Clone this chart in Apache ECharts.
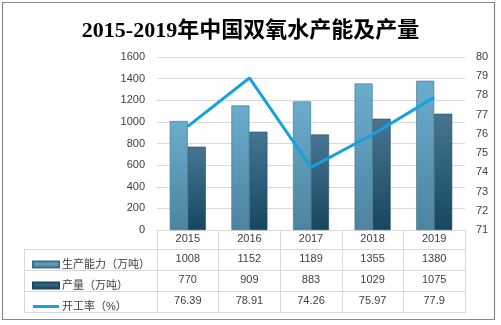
<!DOCTYPE html>
<html><head><meta charset="utf-8">
<script src="https://cdn.jsdelivr.net/npm/echarts@6/dist/echarts.min.js"></script>
<style>html,body{margin:0;padding:0;background:#fff}#c{width:501px;height:325px}</style>
</head><body><div id="c"></div>
<script>
const years = ['2015','2016','2017','2018','2019'];
const capacity = [1008, 1152, 1189, 1355, 1380];
const production = [770, 909, 883, 1029, 1075];
const utilization = [76.39, 78.91, 74.26, 75.97, 77.9];
const leftTicks = {min: 0, max: 1600, interval: 200};
const rightTicks = {min: 71, max: 80, interval: 1};
const seriesNames = ['生产能力（万吨）', '产量（万吨）', '开工率（%）'];
const titleText = '2015-2019年中国双氧水产能及产量';

const FONT = '"Liberation Sans","Noto Sans CJK SC",sans-serif';
const TXT = '#404040';
const LINE = '#d9d9d9';
const G = {left: 157, right: 465, top: 57, bottom: 230};
const rowY = [249.5, 270.5, 291.5, 312.5];
const tableLeft = 24.5;

const chart = echarts.init(document.getElementById('c'));
const grad = (a, b) => new echarts.graphic.LinearGradient(0, 0, 0, 1, [{offset: 0, color: a}, {offset: 1, color: b}]);

function rowAxis(offset, arr) {
  return {
    type: 'category', data: years, position: 'bottom', offset: offset,
    axisLine: {show: false}, axisTick: {show: false}, splitLine: {show: false},
    axisLabel: {margin: 3, fontSize: 11, color: TXT, fontFamily: FONT,
      formatter: (v, i) => String(arr[i])}
  };
}

const graphics = [
  {type: 'rect', shape: {x: 2.5, y: 2.5, width: 492, height: 317}, style: {fill: 'none', stroke: '#888', lineWidth: 1.2}, silent: true}
];
rowY.forEach(y => graphics.push({type: 'line', shape: {x1: tableLeft, y1: y, x2: G.right, y2: y}, style: {stroke: LINE, lineWidth: 1}, silent: true}));
graphics.push({type: 'line', shape: {x1: tableLeft, y1: rowY[0], x2: tableLeft, y2: rowY[3]}, style: {stroke: LINE, lineWidth: 1}, silent: true});

chart.setOption({
  animation: false,
  backgroundColor: '#fff',
  title: {text: titleText, left: 'center', top: 15,
    textStyle: {fontFamily: '"Liberation Serif","Noto Sans CJK SC",serif', fontSize: 22, fontWeight: 'bold', color: '#000'}},
  legend: {orient: 'vertical', left: 27, top: 252.5, itemWidth: 26, itemHeight: 6, itemGap: 7,
    textStyle: {fontSize: 11, color: TXT, fontFamily: FONT, lineHeight: 14, padding: [0, 0, 0, -2]},
    data: [{name: seriesNames[0], icon: 'rect'}, {name: seriesNames[1], icon: 'rect'},
           {name: seriesNames[2], icon: 'path://M0,0L26,0L26,3L0,3Z'}]},
  grid: {left: G.left, right: 501 - G.right, top: G.top, bottom: 325 - G.bottom},
  xAxis: [
    {type: 'category', data: years, position: 'bottom',
      axisLine: {lineStyle: {color: LINE}}, axisTick: {show: true, length: 83, lineStyle: {color: LINE}},
      axisLabel: {margin: 3, fontSize: 11, color: TXT, fontFamily: FONT}},
    rowAxis(20.5, capacity),
    rowAxis(41.5, production),
    rowAxis(62, utilization)
  ],
  yAxis: [
    {type: 'value', min: leftTicks.min, max: leftTicks.max, interval: leftTicks.interval,
      axisLine: {show: false}, axisTick: {show: false},
      splitLine: {lineStyle: {color: LINE}},
      axisLabel: {margin: 12, fontSize: 11, color: TXT, fontFamily: FONT, formatter: v => String(v)}},
    {type: 'value', min: rightTicks.min, max: rightTicks.max, interval: rightTicks.interval, position: 'right',
      axisLine: {show: false}, axisTick: {show: false}, splitLine: {show: false},
      axisLabel: {margin: 11, fontSize: 11, color: TXT, fontFamily: FONT, formatter: v => String(v)}}
  ],
  series: [
    {name: seriesNames[0], type: 'bar', data: capacity, barWidth: 18, barGap: '0%',
      itemStyle: {color: grad('#6badcd', '#4b84a0'), borderColor: '#3d6f89', borderWidth: 0.6}},
    {name: seriesNames[1], type: 'bar', data: production, barWidth: 18, barGap: '0%',
      itemStyle: {color: grad('#467692', '#174660'), borderColor: '#1d4a62', borderWidth: 0.6}},
    {name: seriesNames[2], type: 'line', yAxisIndex: 1, data: utilization, symbol: 'none', z: 5,
      itemStyle: {color: '#16a2dd'}, lineStyle: {color: '#16a2dd', width: 3}}
  ],
  graphic: graphics
});
</script></body></html>
